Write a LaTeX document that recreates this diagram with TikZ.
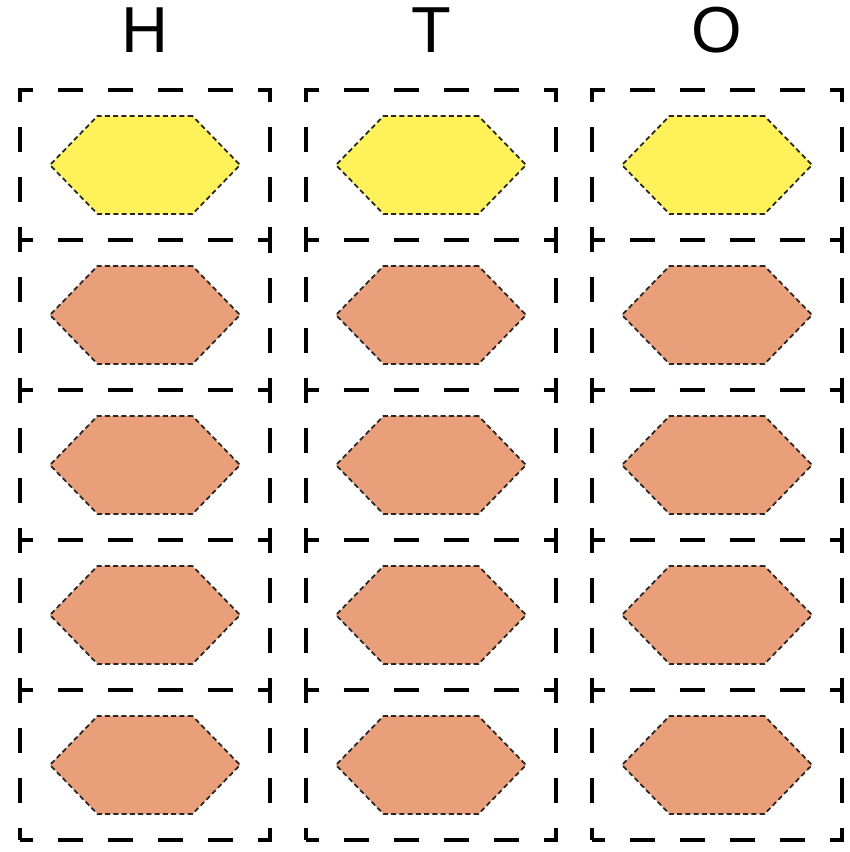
\documentclass[tikz,border=0pt]{standalone}
\usepackage{fontspec}
\setmainfont{Liberation Sans}
\usetikzlibrary{positioning, shapes.geometric}

\definecolor{hexyellow}{HTML}{FFF159}
\definecolor{hexsalmon}{HTML}{E9A07A}

\begin{document}
\begin{tikzpicture}[
    cell/.style={draw, rectangle, minimum width=5cm, minimum height=3cm, outer sep=0pt,
        line width=2.2pt, dash pattern=on 0.5cm off 0.5cm, dash phase=0.25cm},
    hexa/.style={draw=black!85, regular polygon, regular polygon sides=6, minimum size=3.8cm,
        inner sep=0pt, yscale=0.596, line width=1pt, dash pattern=on 0.1cm off 0.065cm},
    tophex/.style={hexa, fill=hexyellow},
    lowhex/.style={hexa, fill=hexsalmon},
    head/.style={font=\fontsize{37}{40}\selectfont, text height=0.93cm, text depth=0pt}
]
\useasboundingbox (0,0) rectangle (16.98,-17.04);

% H column
\node[cell] (hbox1) at (2.9,-3.3) {};
\node[cell, below=0pt of hbox1] (hbox2) {};
\node[cell, below=0pt of hbox2] (hbox3) {};
\node[cell, below=0pt of hbox3] (hbox4) {};
\node[cell, below=0pt of hbox4] (hbox5) {};

% T column
\node[cell, right=0.72cm of hbox1] (tbox1) {};
\node[cell, below=0pt of tbox1] (tbox2) {};
\node[cell, below=0pt of tbox2] (tbox3) {};
\node[cell, below=0pt of tbox3] (tbox4) {};
\node[cell, below=0pt of tbox4] (tbox5) {};

% O column
\node[cell, right=0.72cm of tbox1] (obox1) {};
\node[cell, below=0pt of obox1] (obox2) {};
\node[cell, below=0pt of obox2] (obox3) {};
\node[cell, below=0pt of obox3] (obox4) {};
\node[cell, below=0pt of obox4] (obox5) {};

\node[head, above=0.62cm of hbox1] (hhead) {H};
\node[head, above=0.62cm of tbox1] (thead) {T};
\node[head, above=0.62cm of obox1] (ohead) {O};

\node[tophex] (hhex1) at (hbox1) {};
\node[lowhex] (hhex2) at (hbox2) {};
\node[lowhex] (hhex3) at (hbox3) {};
\node[lowhex] (hhex4) at (hbox4) {};
\node[lowhex] (hhex5) at (hbox5) {};

\node[tophex] (thex1) at (tbox1) {};
\node[lowhex] (thex2) at (tbox2) {};
\node[lowhex] (thex3) at (tbox3) {};
\node[lowhex] (thex4) at (tbox4) {};
\node[lowhex] (thex5) at (tbox5) {};

\node[tophex] (ohex1) at (obox1) {};
\node[lowhex] (ohex2) at (obox2) {};
\node[lowhex] (ohex3) at (obox3) {};
\node[lowhex] (ohex4) at (obox4) {};
\node[lowhex] (ohex5) at (obox5) {};

\end{tikzpicture}
\end{document}
